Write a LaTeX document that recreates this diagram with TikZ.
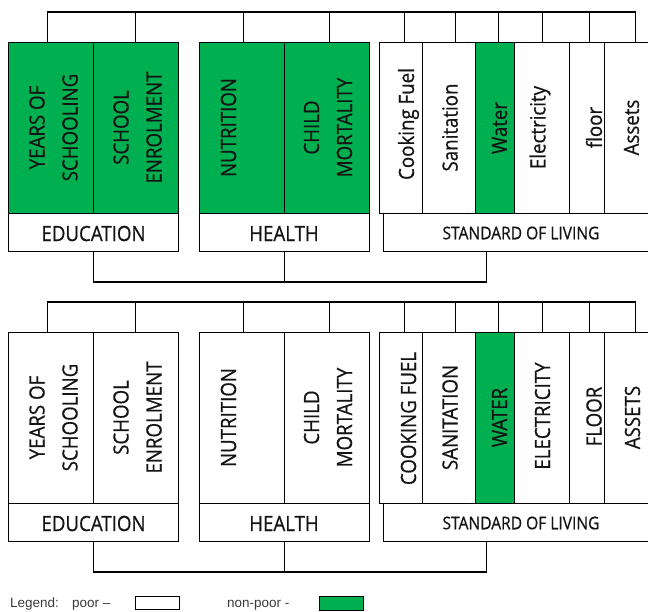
\documentclass[tikz,border=0pt]{standalone}
\usepackage{fontspec}
\setmainfont{Open Sans}[FakeStretch=0.89,FakeBold=0.6]
\newfontfamily\legfont{Liberation Sans}
\definecolor{npgreen}{HTML}{00B050}
\definecolor{txt}{HTML}{141414}
\definecolor{legc}{HTML}{3A3A3A}
\begin{document}
\begin{tikzpicture}[x=1pt,y=-1pt,
  cell/.style={draw=black, line width=1.2pt, fill=white, anchor=north west, inner sep=0, minimum height=171pt},
  np/.style={fill=npgreen},
  lab/.style={draw=black, line width=1.2pt, fill=white, anchor=north west, inner sep=0, minimum height=38pt},
  vtxt/.style={rotate=90, inner sep=0, align=center, font=\fontsize{21}{33}\selectfont, text=txt},
  ltxt/.style={inner sep=0, font=\fontsize{21}{25}\selectfont, text=txt},
  stxt/.style={inner sep=0, font=\fontsize{17.5}{20}\selectfont, text=txt},
  legt/.style={inner sep=0, anchor=base west, font=\legfont\fontsize{13.5}{16}\selectfont, text=legc},
  legbox/.style={draw=black, line width=1pt, anchor=north west, inner sep=0, minimum width=44pt, minimum height=13pt},
  conn/.style={draw=black, line width=1.2pt},
]
\useasboundingbox (0,0) rectangle (648,611);
\clip (0,0) rectangle (648,611);

% ================= TOP HALF =================
\node[cell,np,minimum width=85pt] (ysA) at (8,42) {};
\node[cell,np,minimum width=85pt] (seA) at (93,42) {};
\node[cell,np,minimum width=85pt] (nuA) at (199,42) {};
\node[cell,np,minimum width=85pt] (cmA) at (284,42) {};
\node[cell,minimum width=43pt] (cfA) at (379,42) {};
\node[cell,minimum width=53pt] (saA) at (422,42) {};
\node[cell,np,minimum width=39pt] (waA) at (475,42) {};
\node[cell,minimum width=55pt] (elA) at (514,42) {};
\node[cell,minimum width=35pt] (flA) at (569,42) {};
\node[cell,minimum width=62pt] (asA) at (604,42) {};

\node[lab,minimum width=170pt] (edA) at (8,213) {};
\node[lab,minimum width=170pt] (heA) at (199,213) {};
\node[lab,minimum width=276pt] (slA) at (383,213) {};

\node[vtxt] (ysAx) at (53.5,127.5) {YEARS OF\\SCHOOLING};
\node[vtxt] (seAx) at (137.5,127.5) {SCHOOL\\ENROLMENT};
\node[vtxt] (nuAx) at (228.5,127.5) {NUTRITION};
\node[vtxt] (cmAx) at (328,127.5) {CHILD\\MORTALITY};
\node[vtxt] (cfAx) at (408.5,124) {Cooking Fuel};
\node[vtxt] (saAx) at (450,127.5) {Sanitation};
\node[vtxt] (waAx) at (499.5,128) {Water};
\node[vtxt] (elAx) at (540,127.5) {Electricity};
\node[vtxt] (flAx) at (594,127.5) {floor};
\node[vtxt] (asAx) at (631.5,127.5) {Assets};

\node[ltxt] (edAx) at (93.5,233.5) {EDUCATION};
\node[ltxt] (heAx) at (284,233.5) {HEALTH};
\node[stxt] (slAx) at (521,233) {STANDARD OF LIVING};

\coordinate (busA) at (0,12);
\coordinate (busAb) at (0,282);
\coordinate (ysAt) at ([xshift=-3.5pt]ysA.north);
\coordinate (seAt) at ([xshift=-0.5pt]seA.north);
\coordinate (nuAt) at ([xshift=1.5pt]nuA.north);
\coordinate (cmAt) at ([xshift=2.5pt]cmA.north);
\coordinate (cfAt) at ([xshift=3.5pt]cfA.north);
\coordinate (saAt) at ([xshift=6.5pt]saA.north);
\coordinate (waAt) at ([xshift=3.5pt]waA.north);
\coordinate (elAt) at ([xshift=0.5pt]elA.north);
\coordinate (flAt) at ([xshift=2.5pt]flA.north);
\coordinate (asAt) at (asA.north);
\draw[conn] (ysAt) -- (ysAt |- busA) -- (asAt |- busA) -- (asAt);
\foreach \n in {seAt,nuAt,cmAt,cfAt,saAt,waAt,elAt,flAt}
  \draw[conn] (\n) -- (\n |- busA);
\coordinate (slAb) at ([xshift=-35pt]slA.south);
\draw[conn] (edA.south) -- (edA.south |- busAb) -- (slAb |- busAb) -- (slAb);
\draw[conn] (heA.south) -- (heA.south |- busAb);

% ================= BOTTOM HALF =================
\node[cell,minimum width=85pt] (ysB) at (8,332) {};
\node[cell,minimum width=85pt] (seB) at (93,332) {};
\node[cell,minimum width=85pt] (nuB) at (199,332) {};
\node[cell,minimum width=85pt] (cmB) at (284,332) {};
\node[cell,minimum width=43pt] (cfB) at (379,332) {};
\node[cell,minimum width=53pt] (saB) at (422,332) {};
\node[cell,np,minimum width=39pt] (waB) at (475,332) {};
\node[cell,minimum width=55pt] (elB) at (514,332) {};
\node[cell,minimum width=35pt] (flB) at (569,332) {};
\node[cell,minimum width=62pt] (asB) at (604,332) {};

\node[lab,minimum width=170pt] (edB) at (8,503) {};
\node[lab,minimum width=170pt] (heB) at (199,503) {};
\node[lab,minimum width=276pt] (slB) at (383,503) {};

\node[vtxt] (ysBx) at (53.5,417.5) {YEARS OF\\SCHOOLING};
\node[vtxt] (seBx) at (137.5,417.5) {SCHOOL\\ENROLMENT};
\node[vtxt] (nuBx) at (228.5,417.5) {NUTRITION};
\node[vtxt] (cmBx) at (328,417.5) {CHILD\\MORTALITY};
\node[vtxt] (cfBx) at (408.5,418.5) {COOKING FUEL};
\node[vtxt] (saBx) at (450,417.5) {SANITATION};
\node[vtxt] (waBx) at (499.5,417.5) {WATER};
\node[vtxt] (elBx) at (542.5,416) {ELECTRICITY};
\node[vtxt] (flBx) at (594,416.5) {FLOOR};
\node[vtxt] (asBx) at (632.5,417.5) {ASSETS};

\node[ltxt] (edBx) at (93.5,523.5) {EDUCATION};
\node[ltxt] (heBx) at (284,523.5) {HEALTH};
\node[stxt] (slBx) at (521,523) {STANDARD OF LIVING};

\coordinate (busB) at (0,302);
\coordinate (busBb) at (0,572);
\coordinate (ysBt) at ([xshift=-3.5pt]ysB.north);
\coordinate (seBt) at ([xshift=-0.5pt]seB.north);
\coordinate (nuBt) at ([xshift=1.5pt]nuB.north);
\coordinate (cmBt) at ([xshift=2.5pt]cmB.north);
\coordinate (cfBt) at ([xshift=3.5pt]cfB.north);
\coordinate (saBt) at ([xshift=6.5pt]saB.north);
\coordinate (waBt) at ([xshift=3.5pt]waB.north);
\coordinate (elBt) at ([xshift=0.5pt]elB.north);
\coordinate (flBt) at ([xshift=2.5pt]flB.north);
\coordinate (asBt) at (asB.north);
\draw[conn] (ysBt) -- (ysBt |- busB) -- (asBt |- busB) -- (asBt);
\foreach \n in {seBt,nuBt,cmBt,cfBt,saBt,waBt,elBt,flBt}
  \draw[conn] (\n) -- (\n |- busB);
\coordinate (slBb) at ([xshift=-35pt]slB.south);
\draw[conn] (edB.south) -- (edB.south |- busBb) -- (slBb |- busBb) -- (slBb);
\draw[conn] (heB.south) -- (heB.south |- busBb);

% ================= LEGEND =================
\node[legt] (legA) at (10,607) {Legend:};
\node[legt] (legB) at (72,607) {poor –};
\node[legbox,fill=white] (legP) at (135,596) {};
\node[legt] (legC) at (227,607) {non-poor -};
\node[legbox,fill=npgreen,minimum height=14pt] (legN) at (319,596) {};
\end{tikzpicture}
\end{document}
